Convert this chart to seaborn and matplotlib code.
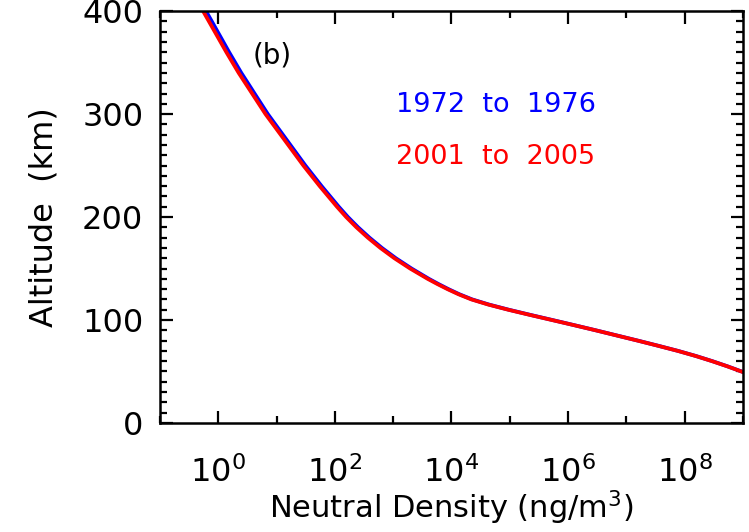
import numpy as np
import pandas as pd
import matplotlib
matplotlib.use("Agg")
import matplotlib.pyplot as plt
import matplotlib.ticker as mticker
import seaborn as sns

# altitude grid (km) and log10 of neutral density (ng/m^3)
altitude = [400, 390, 380, 370, 360, 350, 340, 330, 320, 310, 300, 290, 280,
            270, 260, 250, 240, 230, 220, 210, 200, 190, 180, 170, 160, 150,
            140, 135, 130, 125, 120, 115, 110, 105, 100, 95, 90, 85, 80, 75,
            70, 65, 60, 55, 50, 45]
log_dens_2001 = [-0.26, -0.16, -0.06, 0.04, 0.14, 0.245, 0.35, 0.465, 0.58,
                 0.695, 0.81, 0.94, 1.07, 1.20, 1.33, 1.46, 1.60, 1.74, 1.888,
                 2.036, 2.194, 2.37, 2.565, 2.78, 3.02, 3.29, 3.59, 3.755, 3.93,
                 4.12, 4.34, 4.63, 4.97, 5.34, 5.72, 6.10, 6.47, 6.83, 7.19,
                 7.54, 7.88, 8.19, 8.47, 8.73, 8.97, 9.20]
log_dens_1972 = [-0.21, -0.11, -0.011, 0.088, 0.187, 0.291, 0.395, 0.509,
                 0.622, 0.736, 0.85, 0.979, 1.108, 1.237, 1.366, 1.495, 1.634,
                 1.773, 1.92, 2.067, 2.224, 2.399, 2.593, 2.807, 3.046, 3.315,
                 3.612, 3.775, 3.948, 4.136, 4.355, 4.643, 4.982, 5.351, 5.73,
                 6.105, 6.475, 6.835, 7.195, 7.545, 7.885, 8.195, 8.475, 8.735,
                 8.975, 9.205]
periods = ["1972 to 1976", "2001 to 2005"]
colors = {"1972 to 1976": "#0000ff", "2001 to 2005": "#ff0000"}

df = pd.concat([
    pd.DataFrame({"alt": altitude, "dens": 10.0 ** np.array(log_dens_1972),
                  "period": periods[0]}),
    pd.DataFrame({"alt": altitude, "dens": 10.0 ** np.array(log_dens_2001),
                  "period": periods[1]}),
])

sns.set_style("ticks")
plt.rcParams["font.family"] = ["DejaVu Sans"]
plt.rcParams["text.color"] = "black"
plt.rcParams["axes.labelcolor"] = "black"
plt.rcParams["xtick.color"] = "black"
plt.rcParams["ytick.color"] = "black"

fig = plt.figure(figsize=(7.49, 5.32), dpi=100)
ax = fig.add_axes([0.2136, 0.205, 0.7784, 0.774])

sns.lineplot(data=df, x="dens", y="alt", hue="period", palette=colors,
             sort=False, estimator=None, linewidth=2.7, legend=False, ax=ax)

ax.set_xscale("log")
ax.set_xlim(1e-1, 1e9)
ax.set_ylim(0, 400)

ax.xaxis.set_major_locator(mticker.FixedLocator([1e0, 1e2, 1e4, 1e6, 1e8]))
ax.xaxis.set_minor_locator(mticker.FixedLocator([1e-1, 1e1, 1e3, 1e5, 1e7, 1e9]))
ax.xaxis.set_major_formatter(mticker.LogFormatterMathtext())
ax.xaxis.set_minor_formatter(mticker.NullFormatter())
ax.yaxis.set_major_locator(mticker.MultipleLocator(100))
ax.yaxis.set_minor_locator(mticker.MultipleLocator(10))

ax.tick_params(which="both", direction="in", top=True, right=True,
               labelsize=23, color="black")
ax.tick_params(which="major", length=9, width=1.6)
ax.tick_params(which="minor", length=5, width=1.6)
ax.tick_params(axis="x", which="major", pad=24)
ax.tick_params(axis="y", which="major", pad=12)
for s in ax.spines.values():
    s.set_linewidth(1.8)
    s.set_color("black")

ax.set_xlabel("Neutral Density (ng/m$^3$)", fontsize=22, labelpad=0)
ax.set_ylabel("Altitude  (km)", fontsize=23, labelpad=16)

ax.text(0.192, 0.893, "(b)", transform=ax.transAxes, fontsize=20,
        ha="center", va="center")
ax.text(0.405, 0.772, "1972  to  1976", transform=ax.transAxes, fontsize=19.5,
        color="#0000ff", ha="left", va="center")
ax.text(0.405, 0.646, "2001  to  2005", transform=ax.transAxes, fontsize=19.5,
        color="#ff0000", ha="left", va="center")

fig.savefig("out.png", dpi=100)
